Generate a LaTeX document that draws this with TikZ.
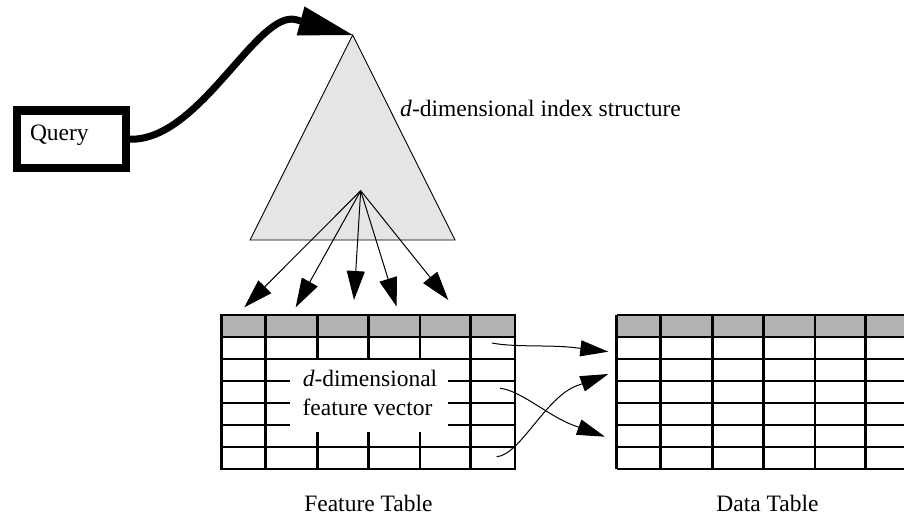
\documentclass[tikz,border=0pt]{standalone}
\usepackage{fontspec}
\setmainfont{Liberation Serif}
\usetikzlibrary{arrows.meta}
\begin{document}
\begin{tikzpicture}[x=1pt,y=-1pt,
  lbl/.style={inner sep=0pt, font=\fontsize{23.5}{28}\selectfont},
  gridline/.style={line width=2.5pt},
  hdr/.style={fill=black!30},
  fanarrow/.style={line width=1pt, -{Triangle[length=29pt,width=18pt]}},
  linkarrow/.style={line width=1pt, -{Triangle[length=28pt,width=16pt]}},
  bigarrow/.style={line width=7pt, -{Triangle[length=54pt,width=30pt,line width=0pt]}},
  qbox/.style={draw, line width=8.5pt, minimum width=109pt, minimum height=57.3pt,
    text width=82.6pt, align=left, inner xsep=13.2pt, inner ysep=0pt,
    text height=14pt, text depth=12.4pt, font=\fontsize{23.5}{28}\selectfont},
]
\useasboundingbox (0,0) rectangle (904,515);
\clip (0,0) rectangle (904,515);

% index structure (triangle)
\coordinate (apex) at (352.7,35);
\coordinate (fan) at (360.7,190.7);
\draw[fill=black!10, line width=0.9pt] (apex) -- (455,240) -- (250,240) -- cycle;
\node[lbl, anchor=base west] (idx) at (400,116.5) {\textit{d}-dimensional index structure};

% query box and thick curved arrow
\node[qbox] (query) at (71.3,139.2) {Query};
\coordinate (qbend) at (296,19.7);
\draw[bigarrow] (query.east) .. controls (200,141) and (257.4,9.3) .. (qbend) -- (apex);

% feature table
\fill[hdr] (221.7,315) rectangle (515,337);
\foreach \y in {337,359,381,403,425,447} \draw[gridline] (221.7,\y) -- (515,\y);
\foreach \x in {265.7,317.3,368.3,420,470.7} \draw[gridline] (\x,315) -- (\x,469);
\draw[gridline] (221.7,315) rectangle (515,469);
\fill[white] (290,360.4) rectangle (448.3,431.7);
\node[lbl, anchor=base] (fv1) at (370,386.7) {\textit{d}-dimensional};
\node[lbl, anchor=base] (fv2) at (367.5,415) {feature vector};
\node[lbl, anchor=base] (ftcap) at (368.4,511) {Feature Table};

% data table (cut at the right edge)
\begin{scope}[xshift=395pt]
\fill[hdr] (221.7,315) rectangle (515,337);
\foreach \y in {337,359,381,403,425,447} \draw[gridline] (221.7,\y) -- (520,\y);
\foreach \x in {265.7,317.3,368.3,420,470.7,515} \draw[gridline] (\x,315) -- (\x,469);
\draw[gridline] (221.7,315) -- (520,315);
\draw[gridline] (221.7,469) -- (520,469);
\draw[gridline] (221.7,315) -- (221.7,469);
\end{scope}
\node[lbl, anchor=base] (dtcap) at (767.5,511) {Data Table};

% fan of pointers from the index into the feature table
\coordinate (fa1) at (244.3,307.3);
\coordinate (fa2) at (295.7,307.3);
\coordinate (fa3) at (354,300);
\coordinate (fa4) at (396.7,306.7);
\coordinate (fa5) at (448.3,300);
\foreach \i in {1,...,5} \draw[fanarrow] (fan) -- (fa\i);

% links from feature table rows to data table rows
\coordinate (s1) at (492,343);
\coordinate (p1) at (574.5,347.6);
\coordinate (t1) at (608.3,351.7);
\coordinate (s2) at (500,388.3);
\coordinate (p2) at (573,425.1);
\coordinate (t2) at (605,436.7);
\coordinate (s3) at (496.7,456.7);
\coordinate (p3) at (576.4,385.9);
\coordinate (t3) at (608.3,374);
\draw[linkarrow] (s1) .. controls (515,347.5) and (549.7,344.6) .. (p1) -- (t1);
\draw[linkarrow] (s2) .. controls (520,390) and (549.5,416.6) .. (p2) -- (t2);
\draw[linkarrow] (s3) .. controls (520,455) and (545.5,397.4) .. (p3) -- (t3);
\end{tikzpicture}
\end{document}
